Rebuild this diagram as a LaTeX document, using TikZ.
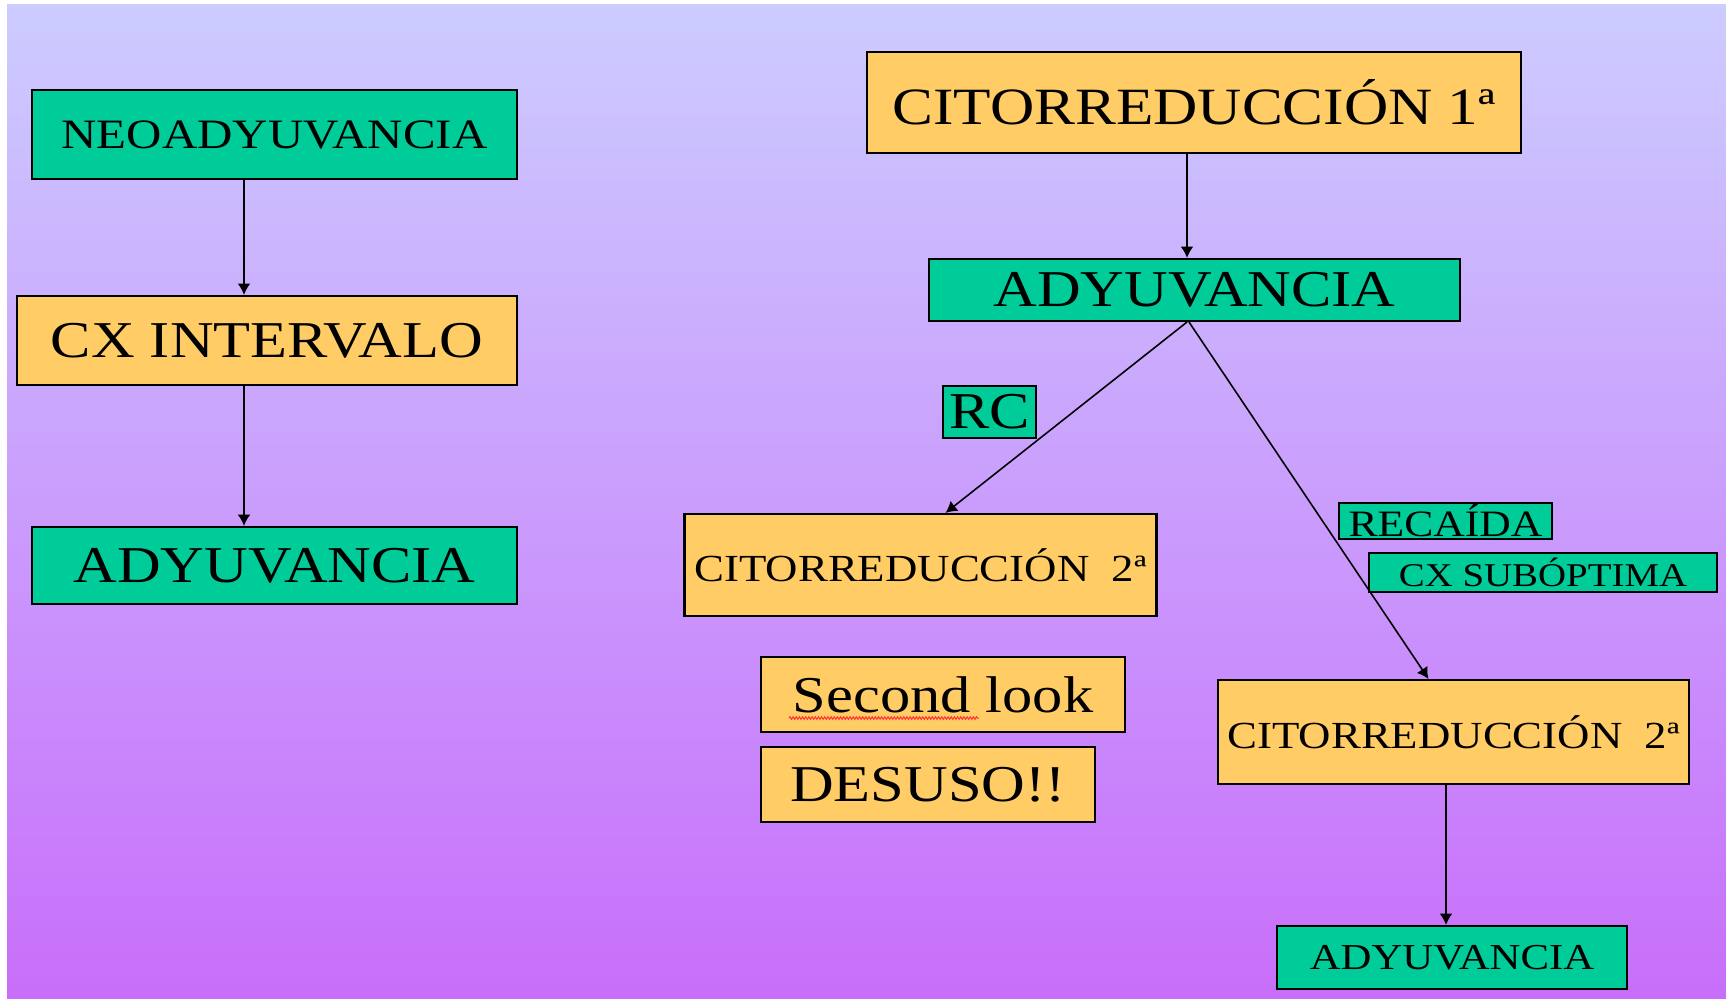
\documentclass[tikz,border=0pt]{standalone}
\usepackage{fontspec}
\setmainfont{Liberation Serif}[FakeStretch=1.17]
\usepackage{tikz}
\usetikzlibrary{arrows.meta}
\usetikzlibrary{calc}
\usetikzlibrary{positioning, decorations.pathmorphing}

\definecolor{verde}{HTML}{00CC99}
\definecolor{naranja}{HTML}{FFCC66}
\definecolor{fondoarriba}{HTML}{CCCCFF}
\definecolor{fondoabajo}{HTML}{C86EFA}

\tikzset{
  caja/.style={draw, line width=0.6pt, inner sep=0pt, rectangle},
  verdebox/.style={caja, fill=verde},
  naranjabox/.style={caja, fill=naranja},
  flecha/.style={line width=0.45pt, -{Latex[length=3.2pt,width=3.6pt]}},
  letragrande/.style={font=\fontsize{14.7pt}{16pt}\selectfont},
  letramedia/.style={font=\fontsize{10.9pt}{12pt}\selectfont}
}

\begin{document}
\begin{tikzpicture}
              \useasboundingbox (0,0) rectangle (17.26,9.99);
              \fill[white] (0,0) rectangle (17.26,9.99);
              \shade[top color=fondoarriba, bottom color=fondoabajo] (0.07,0) rectangle (17.26,9.94);

              % rama izquierda
              \draw (2.745,8.645) node[verdebox, minimum width=4.85cm, minimum height=0.89cm, font=\fontsize{11.9pt}{13pt}\selectfont] (neo) {NEOADYUVANCIA};
              \draw (2.67,6.585) node[naranjabox, letragrande, minimum width=5cm, minimum height=0.89cm] (cxint) {CX INTERVALO};
              \draw (2.745,4.335) node[verdebox, letragrande, minimum width=4.85cm, minimum height=0.77cm] (adyL) {ADYUVANCIA};

              % rama derecha
              \draw (11.94,8.965) node[naranjabox, minimum width=6.54cm, minimum height=1.01cm, font=\fontsize{14.9pt}{16pt}\selectfont] (cit1) {CITORREDUCCIÓN 1ª};
              \draw (11.945,7.09) node[verdebox, letragrande, minimum width=5.31cm, minimum height=0.62cm] (adyM) {ADYUVANCIA};
              \draw (9.895,5.87) node[verdebox, letragrande, minimum width=0.93cm, minimum height=0.52cm] (rc) {RC};
              \draw (9.205,4.34) node[naranjabox, letramedia, minimum width=4.72cm, minimum height=1.02cm] (cit2L) {CITORREDUCCIÓN\ \ 2ª};
              \draw (14.455,4.78) node[verdebox, minimum width=2.13cm, minimum height=0.36cm, font=\fontsize{10.6pt}{11pt}\selectfont] (recaida) {RECAÍDA};
              \draw (15.43,4.265) node[verdebox, minimum width=3.48cm, minimum height=0.39cm, font=\fontsize{9.45pt}{10pt}\selectfont] (subopt) {CX SUBÓPTIMA};
              \draw (9.43,3.045) node[naranjabox, letragrande, minimum width=3.64cm, minimum height=0.75cm] (second) {Second look};
              \draw (9.28,2.145) node[naranjabox, letragrande, minimum width=3.34cm, minimum height=0.75cm] (desuso) {DESUSO!!};
              \draw (14.535,2.67) node[naranjabox, letramedia, minimum width=4.71cm, minimum height=1.04cm] (cit2R) {CITORREDUCCIÓN\ \ 2ª};
              \draw (14.52,0.415) node[verdebox, minimum width=3.5cm, minimum height=0.63cm, font=\fontsize{10.4pt}{11pt}\selectfont] (adyR) {ADYUVANCIA};

              % subrayado del corrector
              \draw[red!80, line width=0.3pt, decorate, decoration={snake, segment length=0.9pt, amplitude=0.35pt}]
                ($(second.south west)+(0.29,0.15)$) -- ($(second.south west)+(2.19,0.15)$);

              % flechas
              \coordinate (ejeL) at (2.44,0);
              \coordinate (ejeM) at (11.87,0);
              \coordinate (ejeR) at (14.46,0);
              \draw[flecha] (neo.south -| ejeL) -- (cxint.north -| ejeL);
              \draw[flecha] (cxint.south -| ejeL) -- (adyL.north -| ejeL);
              \draw[flecha] (cit1.south -| ejeM) -- (adyM.north -| ejeM);
              \draw[flecha] (adyM.south -| ejeM) -- ($(cit2L.north)+(0.25,0)$);
              \draw[flecha] ($(adyM.south -| ejeM)+(0.02,0)$) -- ($(cit2R.north)+(-0.25,0)$);
              \draw[flecha] (cit2R.south -| ejeR) -- (adyR.north -| ejeR);

              \end{tikzpicture}
\end{document}
